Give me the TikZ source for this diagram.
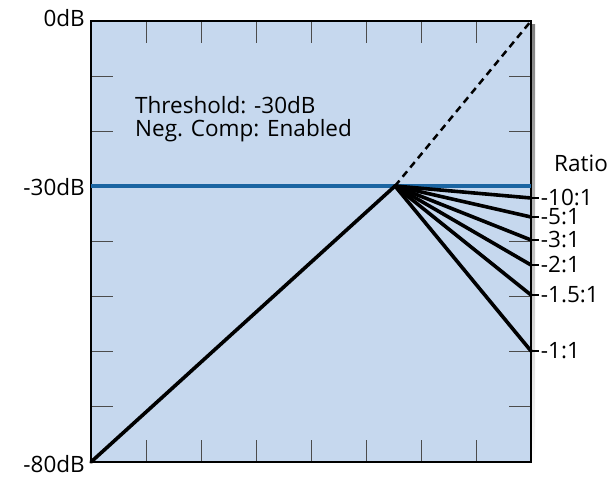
\documentclass[tikz,border=0pt]{standalone}
\usepackage{fontspec}
\setmainfont{Open Sans}
\definecolor{plotbg}{HTML}{C6D8EE}
\definecolor{shade}{HTML}{5E7D98}
\definecolor{thrline}{HTML}{1B65A2}
\tikzset{
  tick/.style={black!70, line width=1pt},
  ratioline/.style={line width=3.6pt, line cap=round},
  lab/.style={font=\fontsize{22.5}{22.5}\selectfont, inner sep=1pt},
}
\begin{document}
\begin{tikzpicture}[x=1pt,y=-1pt]
        \useasboundingbox (0,0) rectangle (615,476);
        % Plot area with shadow
        \fill[shade] (95,25) rectangle (535,466);
        \fill[plotbg] (91,21) rectangle (531,462);
        % Ticks
        \foreach \i in {1,...,7} {
            \draw[tick] (91+55*\i,21) -- ++(0,22);
            \draw[tick] (91+55*\i,462) -- ++(0,-22);
        }
        \foreach \d in {10,20,40,50,60,70} {
            \draw[tick] (91,21+5.5125*\d) -- ++(22,0);
            \draw[tick] (531,21+5.5125*\d) -- ++(-22,0);
        }
        \draw[line width=2pt] (91,21) rectangle (531,462);
        % Threshold line
        \draw[thrline, line width=3.5pt] (91,186) -- (531,186);
        % Curves
        \coordinate (lo) at (91,462);
        \coordinate (th) at (395,186);
        \coordinate (hi) at (531,21);
        \draw[line width=2.5pt, dash pattern=on 7pt off 5pt] (th) -- (hi);
        \draw[ratioline] (lo) -- (th);
        \foreach \y/\t in {198/-10:1, 217/-5:1, 240/-3:1, 265/-2:1, 295/-1.5:1, 351/-1:1} {
            \coordinate (r\y) at (531,\y);
            \draw[ratioline] (th) -- (r\y);
            \draw[line width=1.8pt] (r\y) -- ++(8,0) node[lab, anchor=west] {\t};
        }
        % Labels
        \node[lab, anchor=east] (db0) at (86,18) {0dB};
        \node[lab, anchor=east] (db30) at (86,187) {-30dB};
        \node[lab, anchor=east] (db80) at (86,464) {-80dB};
        \node[lab, anchor=west] (ratio) at (553,163) {Ratio};
        \node[lab, anchor=west, align=left] (info) at (134,119) {Threshold: -30dB\\[1pt]Neg. Comp: Enabled};
    \end{tikzpicture}
\end{document}
